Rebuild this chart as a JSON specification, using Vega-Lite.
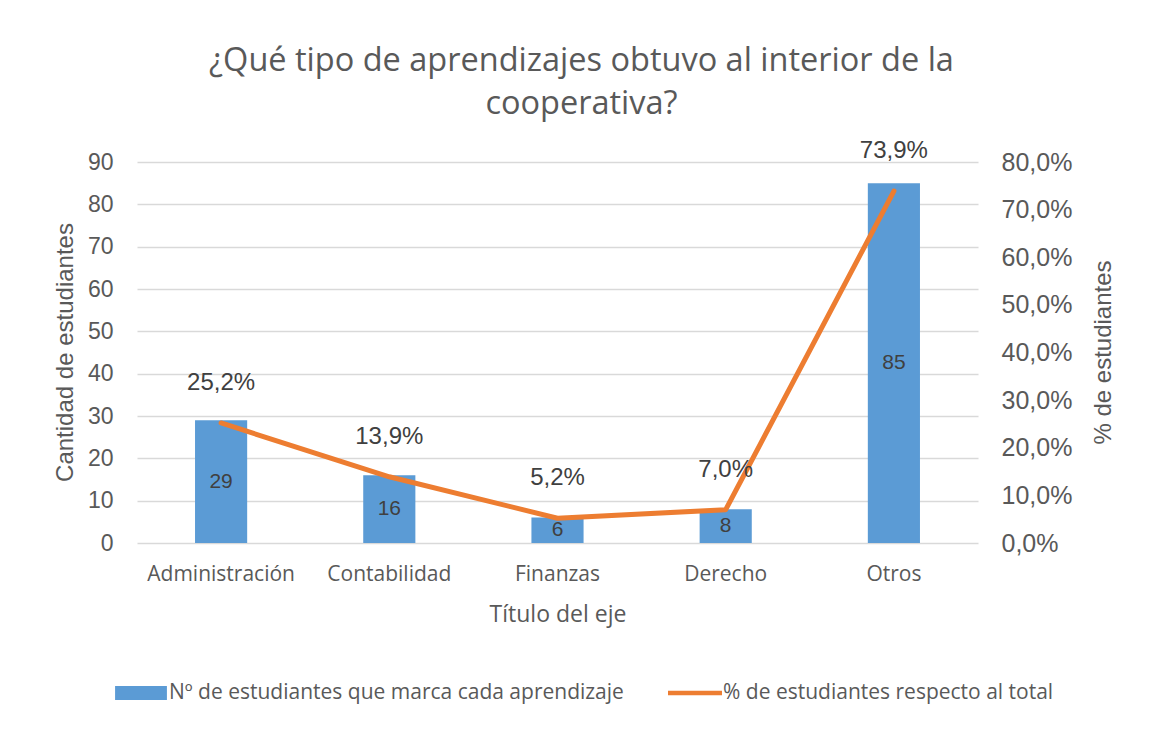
{
  "$schema": "https://vega.github.io/schema/vega-lite/v6.json",
  "width": 841,
  "height": 381,
  "autosize": "none",
  "padding": {"left": 137, "top": 162, "right": 174, "bottom": 191},
  "background": "white",
  "config": {
    "view": {"stroke": null},
    "locale": {"number": {"decimal": ",", "thousands": ".", "grouping": [3], "currency": ["", " €"]}}
  },
  "title": {
    "text": ["¿Qué tipo de aprendizajes obtuvo al interior de la", "cooperativa?"],
    "font": "Open Sans",
    "fontSize": 32.5,
    "fontWeight": "normal",
    "color": "#595959",
    "lineHeight": 43,
    "anchor": "middle",
    "frame": "group",
    "dx": 24,
    "offset": 19
  },
  "data": {
    "values": [
      {"cat": "Administración", "n": 29, "pct": 0.252},
      {"cat": "Contabilidad", "n": 16, "pct": 0.139},
      {"cat": "Finanzas", "n": 6, "pct": 0.052},
      {"cat": "Derecho", "n": 8, "pct": 0.07},
      {"cat": "Otros", "n": 85, "pct": 0.739}
    ]
  },
  "encoding": {
    "x": {
      "field": "cat",
      "type": "nominal",
      "sort": null,
      "scale": {"paddingInner": 0.69, "paddingOuter": 0.345},
      "axis": {
        "title": "Título del eje",
        "labelAngle": 0,
        "domain": false,
        "ticks": false,
        "labelPadding": 20,
        "labelFont": "Open Sans",
        "labelFontSize": 21,
        "labelColor": "#595959",
        "titleFont": "Open Sans",
        "titleFontSize": 23,
        "titleFontWeight": "normal",
        "titleColor": "#595959",
        "titleY": 71,
        "titleBaseline": "middle"
      }
    }
  },
  "layer": [
    {
      "mark": {"type": "bar"},
      "encoding": {
        "y": {
          "field": "n",
          "type": "quantitative",
          "scale": {"domain": [0, 90]},
          "axis": {
            "orient": "left",
            "title": "Cantidad de estudiantes",
            "values": [0, 10, 20, 30, 40, 50, 60, 70, 80, 90],
            "grid": true,
            "gridColor": "#D9D9D9",
            "gridWidth": 1.5,
            "domain": false,
            "ticks": false,
            "labelPadding": 24,
            "labelFont": "Liberation Sans",
            "labelFontSize": 23,
            "labelColor": "#595959",
            "titleFont": "Liberation Sans",
            "titleFontSize": 24,
            "titleFontWeight": "normal",
            "titleColor": "#595959",
            "titleX": -72,
            "titleY": 190,
            "titleAngle": -90,
            "titleAlign": "center",
            "titleBaseline": "middle"
          }
        },
        "color": {
          "datum": "Nº de estudiantes que marca cada aprendizaje",
          "type": "nominal",
          "scale": {
            "domain": ["Nº de estudiantes que marca cada aprendizaje", "% de estudiantes respecto al total"],
            "range": ["#5B9BD5", "#ED7D31"]
          },
          "legend": {
            "orient": "none",
            "legendX": -23,
            "legendY": 504,
            "direction": "horizontal",
            "columns": 2,
            "title": null,
            "symbolSize": 2916,
            "symbolType": "M-0.96,-0.26H0.96V0.26H-0.96Z",
            "labelFont": "Open Sans",
            "labelFontSize": 21,
            "labelColor": "#595959",
            "labelLimit": 0,
            "labelOffset": 1,
            "columnPadding": 44,
            "padding": 0,
            "encode": {
              "symbols": {
                "update": {
                  "shape": {"signal": "datum.value === '% de estudiantes respecto al total' ? 'M-1,-0.08H1V0.08H-1Z' : 'M-0.96,-0.26H0.96V0.26H-0.96Z'"},
                  "fill": {"signal": "datum.value === '% de estudiantes respecto al total' ? '#ED7D31' : '#5B9BD5'"},
                  "stroke": {"value": "transparent"},
                  "strokeWidth": {"value": 0},
                  "opacity": {"value": 1},
                  "fillOpacity": {"value": 1}
                }
              }
            }
          }
        }
      }
    },
    {
      "mark": {"type": "text", "font": "Liberation Sans", "fontSize": 21, "color": "#404040", "baseline": "middle"},
      "encoding": {
        "y": {"field": "n", "type": "quantitative", "scale": {"domain": [0, 180]}, "axis": null},
        "text": {"field": "n", "type": "quantitative"}
      }
    },
    {
      "mark": {"type": "line", "strokeWidth": 5, "strokeCap": "round", "strokeJoin": "round"},
      "encoding": {
        "y": {
          "field": "pct",
          "type": "quantitative",
          "scale": {"domain": [0, 0.8]},
          "axis": {
            "orient": "right",
            "title": "% de estudiantes",
            "format": ".1%",
            "values": [0, 0.1, 0.2, 0.3, 0.4, 0.5, 0.6, 0.7, 0.8],
            "grid": false,
            "domain": false,
            "ticks": false,
            "labelPadding": 23,
            "labelFont": "Liberation Sans",
            "labelFontSize": 25,
            "labelColor": "#595959",
            "titleFont": "Liberation Sans",
            "titleFontSize": 24,
            "titleFontWeight": "normal",
            "titleColor": "#595959",
            "titleX": 125,
            "titleY": 190,
            "titleAngle": -90,
            "titleAlign": "center",
            "titleBaseline": "middle"
          }
        },
        "color": {"datum": "% de estudiantes respecto al total", "type": "nominal"}
      }
    },
    {
      "mark": {"type": "text", "font": "Liberation Sans", "fontSize": 24, "color": "#404040", "baseline": "middle", "dy": -40},
      "encoding": {
        "y": {"field": "pct", "type": "quantitative", "scale": {"domain": [0, 0.8]}, "axis": null},
        "text": {"field": "pct", "type": "quantitative", "format": ".1%"}
      }
    }
  ],
  "resolve": {"scale": {"y": "independent"}}
}
